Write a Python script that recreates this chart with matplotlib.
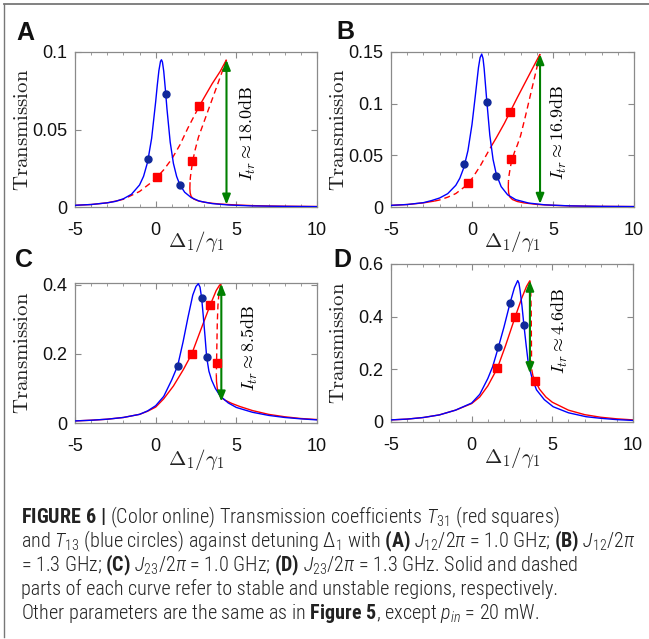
import matplotlib
matplotlib.use('Agg')
import matplotlib.pyplot as plt
from matplotlib import font_manager
from matplotlib.lines import Line2D
from matplotlib.ticker import MultipleLocator, FixedLocator, FuncFormatter

# ---------------- data ----------------
x_ticks = [-5, 0, 5, 10]
panels = ['A', 'B', 'C', 'D']
y_top = {'A': 0.1, 'B': 0.15, 'C': 0.405, 'D': 0.6}
y_ticks = {'A': [0, 0.05, 0.1], 'B': [0, 0.05, 0.1, 0.15],
           'C': [0, 0.2, 0.4], 'D': [0, 0.2, 0.4, 0.6]}
isolation_db = {'A': '18.0', 'B': '16.9', 'C': '8.5', 'D': '4.6'}

# ----- panel A -----
A_T13_x = [-5, -4, -3, -2.5, -2, -1.5, -1, -0.75, -0.5, -0.25, 0, 0.1, 0.2, 0.3, 0.36, 0.42, 0.5,
           0.6, 0.7, 0.9, 1.1, 1.3, 1.5, 1.8, 2.2, 2.7, 3.5, 4.5, 6, 8, 10]
A_T13_y = [0.0011, 0.0016, 0.0027, 0.0036, 0.0053, 0.0082, 0.0142, 0.0198, 0.029, 0.0443, 0.0679,
           0.0786, 0.088, 0.094, 0.095, 0.0935, 0.0876, 0.076, 0.0633, 0.0419, 0.0281, 0.0197,
           0.0143, 0.0095, 0.0061, 0.0038, 0.0022, 0.0013, 0.0007, 0.0004, 0.00024]
A_T31 = [  # (stable, x, y) pieces along the curve
    (True, [-5, -4, -3, -2.3], [0.0011, 0.0016, 0.0027, 0.0042]),
    (False, [-2.3, -2, -1.5, -1, -0.5, 0, 0.1, 0.5, 1, 1.5, 2, 2.6],
     [0.0042, 0.005, 0.0075, 0.010, 0.014, 0.018, 0.0194, 0.024, 0.031, 0.040, 0.051, 0.063]),
    (True, [2.6, 2.7, 3, 3.5, 4, 4.39], [0.063, 0.065, 0.0705, 0.0795, 0.0875, 0.095]),
    (False, [4.39, 4.0, 3.65, 3.3, 2.95, 2.65, 2.45, 2.3, 2.2, 2.15, 2.13],
     [0.095, 0.0838, 0.0737, 0.0637, 0.0536, 0.045, 0.037, 0.030, 0.023, 0.019, 0.016]),
    (True, [2.13, 2.12, 2.14, 2.2, 2.35, 2.6, 3.0, 3.5, 4.0, 5, 6, 7, 8, 9, 10],
     [0.016, 0.012, 0.009, 0.0068, 0.0052, 0.0041, 0.0031, 0.0024, 0.0019, 0.0013, 0.0009,
      0.00065, 0.0005, 0.0004, 0.0003]),
]
A_T13_mx = [-0.46, 0.61, 1.52]
A_T13_my = [0.031, 0.073, 0.0144]
A_T31_mx = [0.1, 2.7, 2.28]
A_T31_my = [0.0194, 0.065, 0.0295]
A_arrow = (4.39, 0.0015, 0.095)
A_label_at = (5.7, 0.0477)

# ----- panel B -----
B_T13_x = [-5, -4, -3, -2.5, -2, -1.5, -1, -0.75, -0.5, -0.25, 0, 0.2, 0.4, 0.5, 0.6, 0.68, 0.75,
           0.9, 1.1, 1.3, 1.5, 1.8, 2.2, 2.7, 3.5, 4.5, 6, 8, 10]
B_T13_y = [0.0016, 0.0024, 0.0042, 0.0062, 0.0087, 0.0129, 0.021, 0.0279, 0.0383, 0.0546, 0.0799,
           0.107, 0.135, 0.1446, 0.148, 0.1438, 0.134, 0.105, 0.0694, 0.046, 0.0317, 0.0197,
           0.0118, 0.0071, 0.0038, 0.0021, 0.0011, 0.0006, 0.0004]
B_T31 = [
    (True, [-5, -4, -3, -2.3], [0.0016, 0.0024, 0.004, 0.0058]),
    (False, [-2.3, -2, -1.5, -1, -0.5, -0.226, 0, 0.5, 1.0, 1.2],
     [0.0058, 0.0068, 0.0095, 0.013, 0.019, 0.0231, 0.0275, 0.0395, 0.0535, 0.059]),
    (True, [1.2, 1.5, 2.0, 2.35, 2.8, 3.3, 3.8, 4.2],
     [0.059, 0.067, 0.081, 0.092, 0.106, 0.121, 0.136, 0.148]),
    (False, [4.2, 3.9, 3.6, 3.3, 3.0, 2.8, 2.62, 2.5, 2.4, 2.32, 2.27, 2.25],
     [0.148, 0.128, 0.108, 0.088, 0.069, 0.060, 0.053, 0.047, 0.041, 0.034, 0.029, 0.025]),
    (True, [2.25, 2.24, 2.26, 2.32, 2.5, 2.8, 3.2, 4.0, 5, 6, 7, 8, 9, 10],
     [0.025, 0.019, 0.014, 0.010, 0.0072, 0.0053, 0.0040, 0.0025, 0.0016, 0.0011, 0.0008,
      0.0006, 0.0005, 0.0004]),
]
B_T13_mx = [-0.47, 0.926, 1.50]
B_T13_my = [0.0418, 0.102, 0.0296]
B_T31_mx = [-0.226, 2.35, 2.39]
B_T31_my = [0.0231, 0.092, 0.0466]
B_arrow = (4.2, 0.003, 0.148)
B_label_at = (5.35, 0.0726)

# ----- panel C -----
C_T13_x = [-5, -4, -3, -2, -1, -0.5, 0, 0.5, 1, 1.366, 1.7, 2.0, 2.3, 2.5, 2.645, 2.75, 2.85,
           2.95, 3.06, 3.16, 3.3, 3.47, 3.7, 4.0, 4.5, 5.0, 6.0, 7.0, 8.0, 9.0, 10.0]
C_T13_y = [0.006, 0.008, 0.011, 0.016, 0.025, 0.035, 0.05, 0.077, 0.125, 0.166, 0.235, 0.305,
           0.37, 0.395, 0.403, 0.393, 0.361, 0.31, 0.25, 0.191, 0.150, 0.124, 0.100, 0.078,
           0.058, 0.045, 0.031, 0.022, 0.016, 0.012, 0.009]
C_T31 = [
    (True, [-5, -4, -3, -2, -1, -0.5, 0, 0.5, 1.1, 1.71, 2.23, 2.8, 3.37, 3.75, 3.95, 4.05],
     [0.006, 0.008, 0.011, 0.016, 0.025, 0.034, 0.046, 0.07, 0.107, 0.154, 0.199, 0.27, 0.34,
      0.383, 0.398, 0.403]),
    (False, [4.05, 3.93, 3.86, 3.82, 3.8, 3.78, 3.77, 3.76],
     [0.403, 0.38, 0.34, 0.29, 0.24, 0.19, 0.16, 0.14]),
    (True, [3.76, 3.77, 3.82, 3.9, 4.05, 4.3, 4.7, 5.2, 6, 7, 8, 9, 10],
     [0.14, 0.12, 0.10, 0.087, 0.074, 0.066, 0.057, 0.048, 0.036, 0.025, 0.018, 0.013, 0.010]),
]
C_T13_mx = [1.366, 2.85, 3.16]
C_T13_my = [0.166, 0.361, 0.191]
C_T31_mx = [2.23, 3.37, 3.78]
C_T31_my = [0.199, 0.34, 0.175]
C_arrow = (4.07, 0.062, 0.403)
C_label_at = (5.85, 0.217)

# ----- panel D -----
D_T13_x = [-5, -4, -3, -2, -1, 0, 0.5, 1.0, 1.3, 1.655, 2.0, 2.38, 2.65, 2.853, 2.93, 3.0, 3.12,
           3.24, 3.38, 3.51, 3.75, 4.02, 4.5, 5.05, 6, 7.1, 8, 9, 10]
D_T13_y = [0.008, 0.011, 0.017, 0.027, 0.045, 0.072, 0.105, 0.165, 0.21, 0.284, 0.36, 0.452,
           0.51, 0.537, 0.527, 0.5, 0.44, 0.367, 0.29, 0.223, 0.165, 0.122, 0.085, 0.058, 0.035,
           0.02, 0.014, 0.009, 0.006]
D_T31 = [
    (True, [-5, -4, -3, -2, -1, 0, 0.5, 1.0, 1.59, 2.1, 2.69, 3.1, 3.4, 3.61],
     [0.008, 0.011, 0.017, 0.027, 0.045, 0.070, 0.095, 0.137, 0.204, 0.29, 0.398, 0.47, 0.515,
      0.537]),
    (False, [3.61, 3.66, 3.69, 3.70, 3.71, 3.72], [0.537, 0.50, 0.42, 0.33, 0.25, 0.20]),
    (True, [3.72, 3.8, 3.94, 4.2, 4.6, 5.0, 6.0, 7.0, 8.0, 9.0, 10.0],
     [0.20, 0.175, 0.157, 0.125, 0.095, 0.075, 0.045, 0.028, 0.018, 0.012, 0.008]),
]
D_T13_mx = [1.655, 2.38, 3.24]
D_T13_my = [0.284, 0.452, 0.367]
D_T31_mx = [1.59, 2.69, 3.94]
D_T31_my = [0.204, 0.398, 0.157]
D_arrow = (3.61, 0.185, 0.537)
D_label_at = (5.5, 0.348)

caption_lines = [
    r"$\mathbf{FIGURE\ 6\ |}$ (Color online) Transmission coefficients $T_{31}$ (red squares)",
    r"and $T_{13}$ (blue circles) against detuning $\Delta_1$ with $\mathbf{(A)}$ $J_{12}/2\pi$ = 1.0 GHz; $\mathbf{(B)}$ $J_{12}/2\pi$",
    r"= 1.3 GHz; $\mathbf{(C)}$ $J_{23}/2\pi$ = 1.0 GHz; $\mathbf{(D)}$ $J_{23}/2\pi$ = 1.3 GHz. Solid and dashed",
    "parts of each curve refer to stable and unstable regions, respectively.",
    r"Other parameters are the same as in $\mathbf{Figure\ 5}$, except $p_{in}$ = 20 mW.",
]

data = {
    'A': (A_T13_x, A_T13_y, A_T31, A_T13_mx, A_T13_my, A_T31_mx, A_T31_my, A_arrow, A_label_at),
    'B': (B_T13_x, B_T13_y, B_T31, B_T13_mx, B_T13_my, B_T31_mx, B_T31_my, B_arrow, B_label_at),
    'C': (C_T13_x, C_T13_y, C_T31, C_T13_mx, C_T13_my, C_T31_mx, C_T31_my, C_arrow, C_label_at),
    'D': (D_T13_x, D_T13_y, D_T31, D_T13_mx, D_T13_my, D_T31_mx, D_T31_my, D_arrow, D_label_at),
}

# ---------------- layout / style ----------------
W, H = 649, 639
names = {f.name for f in font_manager.fontManager.ttflist}
cap_font = 'Liberation Sans'
for cand in ['Liberation Sans Narrow', 'Roboto Condensed', 'Open Sans Condensed', 'Lato']:
    if cand in names:
        cap_font = cand
        break

plt.rcParams['axes.unicode_minus'] = False
plt.rcParams['font.family'] = ['Liberation Sans', 'DejaVu Sans']
plt.rcParams['mathtext.fontset'] = 'custom'
plt.rcParams['mathtext.rm'] = cap_font + ':light'
plt.rcParams['mathtext.it'] = cap_font + ':italic:light'
plt.rcParams['mathtext.bf'] = cap_font + ':bold'
plt.rcParams['mathtext.sf'] = cap_font

fig = plt.figure(figsize=(W / 100, H / 100), dpi=100)

# pixel boxes (left, top, right, bottom)
boxes = {'A': (75, 52, 317, 207), 'B': (391, 52, 634, 207),
         'C': (75, 283, 317, 423), 'D': (391, 264, 633, 422)}
ylab_x = {'A': 23, 'B': 338, 'C': 23, 'D': 338}
xlab_y = {'A': 241, 'B': 241, 'C': 460, 'D': 458}
letter_pos = {'A': (25, 40), 'B': (345, 39), 'C': (24.5, 267), 'D': (342, 267)}

GRAY = '#8a8a8a'
BLUE = '#0000ff'
NAVY = '#10289a'
RED = '#ff0000'
GREEN = '#008000'

for p in panels:
    l, t, r, b = boxes[p]
    ax = fig.add_axes([l / W, 1 - b / H, (r - l) / W, (b - t) / H])
    bx, by, red, bmx, bmy, rmx, rmy, arrow, lab = data[p]

    ax.plot(bx, by, color=BLUE, lw=1.0, zorder=3)
    for stable, xs, ys in red:
        if stable:
            ax.plot(xs, ys, color=RED, lw=1.0, zorder=2, solid_capstyle='butt')
        else:
            ax.plot(xs, ys, color=RED, lw=1.0, zorder=2, dashes=(4.3, 2.9))
    ax.plot(bmx, bmy, 'o', color=NAVY, ms=5, mec=NAVY, zorder=5)
    ax.plot(rmx, rmy, 's', color=RED, ms=5.8, mec=RED, zorder=5)

    ax.annotate('', xy=(arrow[0], arrow[2]), xytext=(arrow[0], arrow[1]),
                arrowprops=dict(arrowstyle='<|-|>,head_length=0.5,head_width=0.2',
                                color=GREEN, lw=1.5, shrinkA=0, shrinkB=0,
                                mutation_scale=12), zorder=4)
    ax.text(lab[0], lab[1], r'$I_{tr}\approx 18.0\mathrm{dB}$'.replace('18.0', isolation_db[p]),
            rotation=90, ha='center', va='center', fontsize=13, math_fontfamily='cm')

    ax.set_xlim(-5, 10)
    ax.set_ylim(0, y_top[p])
    ax.xaxis.set_major_locator(FixedLocator(x_ticks))
    ax.xaxis.set_minor_locator(MultipleLocator(1))
    ax.yaxis.set_major_locator(FixedLocator(y_ticks[p]))
    ax.yaxis.set_major_formatter(FuncFormatter(lambda v, pos: f'{v:g}'))
    ax.xaxis.set_major_formatter(FuncFormatter(lambda v, pos: f'{v:g}'))
    ax.tick_params(which='both', direction='in', top=True, right=True, color=GRAY,
                   labelcolor='#111111', labelsize=13)
    ax.tick_params(which='major', length=4, width=0.8)
    ax.tick_params(which='minor', length=2, width=0.6)
    ax.tick_params(axis='x', pad=10.5)
    ax.tick_params(axis='y', pad=5.5)
    for s in ax.spines.values():
        s.set_color(GRAY)
        s.set_linewidth(0.9)

    ax.set_ylabel(r'$\mathrm{Transmission}$', fontsize=15, math_fontfamily='cm',
                  va='center', color='#222222')
    ax.yaxis.set_label_coords((ylab_x[p] - l) / (r - l), 0.5)
    ax.set_xlabel(r'$\Delta_1/\gamma_1$', fontsize=15, math_fontfamily='cm',
                  va='center', color='#222222')
    ax.xaxis.set_label_coords(0.5, (b - xlab_y[p]) / (b - t))

    lx, ly = letter_pos[p]
    fig.text(lx / W, 1 - ly / H, p, fontsize=18, fontweight='bold', ha='center',
             va='baseline', family='Liberation Sans', color='#111111')

# frame lines
fig.add_artist(Line2D([4 / W, 1], [1 - 4 / H, 1 - 4 / H], color='#777777', lw=1.3))
fig.add_artist(Line2D([4 / W, 4 / W], [1 - 4 / H, 1 - 637 / H], color='#777777', lw=1.0))

# caption
cap_base = [523, 547, 571, 595, 619]
cap_texts = []
for s, yb in zip(caption_lines, cap_base):
    cap_texts.append(fig.text(21 / W, 1 - yb / H, s, fontsize=12,
                              family=[cap_font, 'DejaVu Sans'], fontweight='light',
                              math_fontfamily='custom', ha='left', va='baseline',
                              color='#222222'))
renderer = fig.canvas.get_renderer()
w2 = cap_texts[1].get_window_extent(renderer).width
w4 = cap_texts[3].get_window_extent(renderer).width
fs = 12 * min(553 / w4, 612 / w2)
for t in cap_texts:
    t.set_fontsize(fs)

fig.savefig('out.png', dpi=100)
